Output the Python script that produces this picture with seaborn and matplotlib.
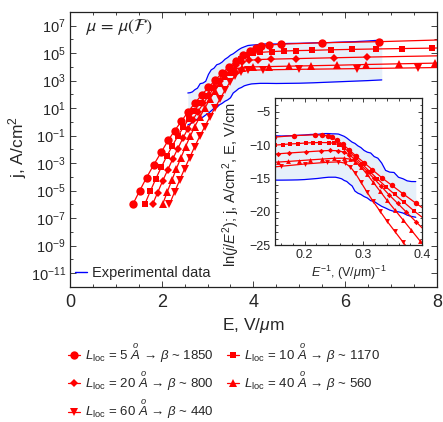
import numpy as np
import matplotlib
matplotlib.use('Agg')  # no display
import matplotlib.pyplot as plt
from matplotlib.lines import Line2D
from matplotlib.ticker import FixedLocator, MultipleLocator, FuncFormatter, NullFormatter
import seaborn as sns

# Experimental band: field E (V/um), log10 of current density j (A/cm^2)
exp_E = [2.57, 2.62, 2.67, 2.72, 2.78, 2.84, 2.90, 2.96, 3.02, 3.08, 3.14, 3.20,
         3.26, 3.32, 3.38, 3.44, 3.50, 3.56, 3.62, 3.68, 3.74, 3.80, 3.88, 3.96,
         4.05, 4.15, 4.30, 4.50, 4.75, 5.00, 5.30, 5.60, 5.90, 6.20, 6.50, 6.80]
exp_upper = [2.10, 2.12, 2.18, 2.33, 2.45, 2.78, 2.82, 2.95, 3.45, 3.78, 3.90, 4.15,
             4.22, 4.35, 4.55, 4.68, 4.85, 4.95, 5.10, 5.25, 5.37, 5.45, 5.55, 5.58,
             5.60, 5.64, 5.67, 5.66, 5.70, 5.71, 5.74, 5.76, 5.80, 5.83, 5.88, 5.95]
exp_lower = [-0.22, -0.15, -0.05, 0.10, 0.20, 0.25, 0.35, 0.50, 0.63, 0.80, 0.98, 1.05,
             1.24, 1.35, 1.50, 1.60, 1.75, 2.10, 2.25, 2.42, 2.50, 2.62, 2.70, 2.76,
             2.78, 2.80, 2.80, 2.79, 2.80, 2.81, 2.84, 2.88, 2.92, 2.96, 3.00, 3.05]

# Model curves, log10 j vs E, one per localisation length
E_5 = [1.37, 1.52, 1.67, 1.83, 1.99, 2.14, 2.28, 2.43, 2.57, 2.72, 2.87, 3.02, 3.17,
       3.32, 3.47, 3.62, 3.77, 3.92, 4.05, 4.17, 4.35, 4.60, 5.50, 6.75, 8.00]
logj_5 = [-6.0, -5.0, -4.05, -3.1, -2.2, -1.35, -0.65, 0.05, 0.7, 1.35, 1.95, 2.5, 3.05,
          3.55, 4.0, 4.45, 4.85, 5.15, 5.38, 5.5, 5.58, 5.65, 5.75, 5.83, 5.95]

E_10 = [1.63, 1.75, 1.87, 1.99, 2.11, 2.23, 2.35, 2.47, 2.59, 2.71, 2.83, 2.96, 3.09,
        3.22, 3.35, 3.48, 3.61, 3.74, 3.87, 4.00, 4.15, 4.41, 4.67, 4.93, 5.28, 5.70,
        6.15, 6.67, 7.24, 7.89, 8.00]
logj_10 = [-6.0, -5.05, -4.15, -3.3, -2.5, -1.75, -1.05, -0.4, 0.2, 0.8, 1.35, 1.9, 2.45,
           2.95, 3.45, 3.9, 4.3, 4.6, 4.85, 4.98, 5.05, 5.11, 5.15, 5.18, 5.2, 5.24,
           5.27, 5.3, 5.33, 5.36, 5.37]

E_20 = [1.80, 1.91, 2.02, 2.13, 2.24, 2.35, 2.46, 2.57, 2.68, 2.79, 2.91, 3.03, 3.15,
        3.27, 3.39, 3.51, 3.63, 3.75, 3.90, 4.10, 4.38, 4.93, 5.75, 6.48, 8.00]
logj_20 = [-6.0, -5.15, -4.3, -3.5, -2.7, -1.95, -1.2, -0.5, 0.15, 0.75, 1.35, 1.95, 2.5,
           3.0, 3.45, 3.85, 4.15, 4.35, 4.47, 4.53, 4.56, 4.6, 4.66, 4.71, 4.8]

E_40 = [2.02, 2.12, 2.22, 2.32, 2.42, 2.52, 2.62, 2.72, 2.83, 2.94, 3.05, 3.16, 3.27,
        3.38, 3.49, 3.60, 3.75, 4.00, 4.35, 4.78, 5.25, 5.83, 6.45, 7.17, 7.97, 8.00]
logj_40 = [-6.0, -5.1, -4.25, -3.4, -2.6, -1.8, -1.05, -0.35, 0.35, 1.0, 1.65, 2.25, 2.8,
           3.3, 3.65, 3.85, 3.95, 4.0, 4.02, 4.05, 4.08, 4.12, 4.17, 4.22, 4.27, 4.27]

E_60 = [2.17, 2.28, 2.39, 2.50, 2.61, 2.72, 2.83, 2.94, 3.05, 3.16, 3.27, 3.38, 3.49,
        3.60, 3.72, 3.88, 4.20, 5.00, 6.26, 7.60, 8.00]
logj_60 = [-6.0, -5.1, -4.25, -3.4, -2.6, -1.8, -1.05, -0.35, 0.35, 1.0, 1.65, 2.3, 2.9,
           3.35, 3.62, 3.74, 3.78, 3.82, 3.87, 3.93, 3.95]

L_loc = [5, 10, 20, 40, 60]
beta = [1850, 1170, 800, 560, 440]

series = [
    (E_5, logj_5, 'o', 6.0),
    (E_10, logj_10, 's', 4.3),
    (E_20, logj_20, 'D', 4.2),
    (E_40, logj_40, '^', 5.4),
    (E_60, logj_60, 'v', 5.4),
]

RED = '#ff0000'
BLUE = '#0000ff'
FILL = '#e6f0fa'

sns.set_style('ticks')
plt.rcParams['font.family'] = ['Liberation Sans', 'DejaVu Sans']
plt.rcParams['mathtext.fontset'] = 'custom'
plt.rcParams['mathtext.rm'] = 'Liberation Sans'
plt.rcParams['mathtext.it'] = 'Liberation Sans:italic'
plt.rcParams['mathtext.bf'] = 'Liberation Sans:bold'
plt.rcParams['axes.edgecolor'] = '#222222'
plt.rcParams['axes.linewidth'] = 0.9


def fn_coords(E, logj):
    # Fowler-Nordheim coordinates: 1/E and ln(j/E^2) with E in V/cm
    E = np.asarray(E, dtype=float)
    logj = np.asarray(logj, dtype=float)
    return 1.0 / E, logj * np.log(10) - 2 * np.log(E * 1e4)


fig = plt.figure(figsize=(4.43, 4.22), dpi=100)
ax = fig.add_axes([0.158, 0.320, 0.828, 0.652])
axin = fig.add_axes([0.621, 0.419, 0.332, 0.348])

# ---- main panel ----
up = 10.0 ** np.array(exp_upper)
lo = 10.0 ** np.array(exp_lower)
ax.fill_between(exp_E, lo, up, color=FILL, lw=0)
for band in (up, lo):
    sns.lineplot(x=exp_E, y=band, color=BLUE, lw=0.9, ax=ax, sort=False,
                 estimator=None, legend=False)

for E, lj, m, ms in series:
    sns.lineplot(x=E, y=10.0 ** np.array(lj), color=RED, lw=0.9, marker=m,
                 markersize=ms, markeredgecolor=RED, markeredgewidth=0,
                 markevery=slice(0, -1), ax=ax, sort=False, estimator=None,
                 legend=False)

ax.set_yscale('log')
ax.set_xlim(0, 8)
ax.set_ylim(1e-12, 1e8)
ax.yaxis.set_major_locator(FixedLocator([10.0 ** k for k in range(-11, 8, 2)]))
ax.yaxis.set_minor_locator(FixedLocator([10.0 ** k for k in range(-12, 9, 2)]))
ax.yaxis.set_major_formatter(FuncFormatter(lambda v, p: r'$10^{%d}$' % round(np.log10(v))))
ax.yaxis.set_minor_formatter(NullFormatter())
ax.xaxis.set_major_locator(MultipleLocator(2))
ax.xaxis.set_minor_locator(MultipleLocator(0.5))
ax.tick_params(which='both', direction='in', top=True, right=True, width=0.6, color='#222222')
ax.tick_params(which='major', length=4)
ax.tick_params(which='minor', length=2.5)
ax.tick_params(axis='x', labelsize=13, pad=5)
ax.tick_params(axis='y', labelsize=10.5, pad=3)
ax.set_xlabel(r'E, V/$\mu$m', fontsize=12.5, labelpad=4)
ax.set_ylabel(r'j, A/cm$^2$', fontsize=12.5)
ax.yaxis.set_label_coords(-0.112, 0.51)

ax.text(0.04, 0.945, r'$\mu\, = \,\mu(\mathcal{F})$', transform=ax.transAxes,
        fontsize=13, va='center', ha='left', math_fontfamily='stixsans')

ax.legend(handles=[Line2D([], [], color=BLUE, lw=1.0)], labels=['Experimental data'],
          loc='center left', bbox_to_anchor=(0.015, 0.051), frameon=False,
          handlelength=0.8, handletextpad=0.3, borderpad=0, borderaxespad=0,
          fontsize=10.5)

# ---- inset: Fowler-Nordheim plot ----
xu, yu = fn_coords(exp_E, exp_upper)
xl, yl = fn_coords(exp_E, exp_lower)
axin.fill_between(xu, yl, yu, color=FILL, lw=0)
for bx, by in ((xu, yu), (xl, yl)):
    sns.lineplot(x=bx, y=by, color=BLUE, lw=0.9, ax=axin, sort=False,
                 estimator=None, legend=False)

for E, lj, m, ms in series:
    fx, fy = fn_coords(E, lj)
    sns.lineplot(x=fx, y=fy, color=RED, lw=0.9, marker=m, markersize=ms * 0.65,
                 markeredgecolor=RED, markeredgewidth=0, markevery=slice(0, -1),
                 ax=axin, sort=False, estimator=None, legend=False)

axin.set_xlim(0.15, 0.4)
axin.set_ylim(-25, -3)
axin.xaxis.set_major_locator(FixedLocator([0.2, 0.3, 0.4]))
axin.xaxis.set_minor_locator(MultipleLocator(0.02))
axin.yaxis.set_major_locator(FixedLocator([-5, -10, -15, -20, -25]))
axin.yaxis.set_minor_locator(MultipleLocator(1))
axin.xaxis.set_major_formatter(FuncFormatter(lambda v, p: '%.1f' % v))
axin.yaxis.set_major_formatter(FuncFormatter(lambda v, p: '\u2212%d' % abs(v)))
axin.tick_params(which='both', direction='in', top=True, right=True, width=0.6,
                 color='#222222', labelsize=9, pad=3)
axin.tick_params(which='major', length=3)
axin.tick_params(which='minor', length=1.8)
axin.set_xlabel(r'$E^{-1}$, (V/$\mu$m)$^{-1}$', fontsize=9, labelpad=2)
axin.set_ylabel(r'ln$(j/E^2)$; j, A/cm$^2$, E, V/cm', fontsize=10.5)
axin.yaxis.set_label_coords(-0.225, 0.41)

# ---- legend below the plot ----
handles = []
labels = []
for (E, lj, m, ms), L, b in zip(series, L_loc, beta):
    handles.append(Line2D([], [], color=RED, lw=0.9, marker=m, markersize=ms,
                          markeredgewidth=0))
    labels.append(r'$L_{\mathrm{loc}}$ = %d $\overset{o}{A}$ → $\beta$ ~ %d' % (L, b))
order = [0, 2, 4, 1, 3]
fig.legend([handles[i] for i in order], [labels[i] for i in order], ncol=2,
           loc='upper left', bbox_to_anchor=(0.153, 0.191), frameon=False,
           fontsize=9.5, handlelength=0.9, handletextpad=0.4, columnspacing=1.0,
           labelspacing=0.35, borderpad=0, borderaxespad=0)

fig.savefig('out.png', dpi=100)
plt.close(fig)
